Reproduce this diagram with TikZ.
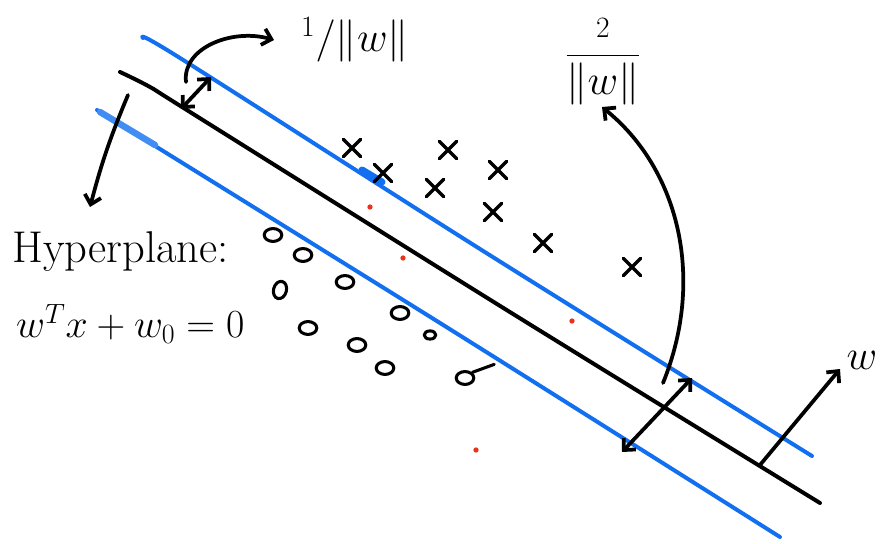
\RequirePackage{fix-cm}
\documentclass[tikz,border=0pt]{standalone}
\usepackage{amsmath}
\usetikzlibrary{arrows.meta,shapes.misc,shapes.geometric}
\definecolor{mblue}{RGB}{18,112,240}
\definecolor{svred}{RGB}{232,52,30}

\begin{document}
\begin{tikzpicture}[x=0.03cm, y=-0.03cm, line cap=round, line join=round,
  hand/.style={line width=3.2pt},
  margin/.style={draw=mblue, line width=3.4pt},
  plane/.style={draw=black, line width=3.4pt},
  arr/.style={hand, -{Straight Barb[length=2.6mm, width=5mm]}},
  darr/.style={hand, {Straight Barb[length=2.6mm, width=5mm]}-{Straight Barb[length=2.6mm, width=5mm]}},
  plusmark/.style={cross out, draw, line width=2.8pt, minimum size=12pt, inner sep=0pt},
  negmark/.style={ellipse, draw, line width=2.6pt, minimum width=15pt, minimum height=11pt, inner sep=0pt},
  svdot/.style={circle, fill=svred, inner sep=0pt, minimum size=4.5pt},
  lab/.style={inner sep=0pt, font=\fontsize{36}{42}\selectfont}]
  \useasboundingbox (0,0) rectangle (883,544);
  % hyperplane and margins
  \draw[plane] plot[smooth, tension=0.5] coordinates {(120,72) (150,87) (190,112) (505,309) (820,503)};
  \draw[margin] plot[smooth, tension=0.5] coordinates {(143,38) (180,58) (480,249) (812,456)};
  \draw[margin] plot[smooth, tension=0.5] coordinates {(97,110) (440,323) (780,537)};
  \draw[margin, line width=6pt] (362,170) -- (382,182);
  \draw[margin, line width=5.5pt, draw=mblue!80] (100,112) -- (155,145);
  % labels
  \node[lab, anchor=base west, font=\fontsize{38}{44}\selectfont] (hyp) at (12,263) {Hyperplane:};
  \node[lab, anchor=base west, font=\fontsize{34}{40}\selectfont] (eq) at (16,338) {$w^{T}x+w_0=0$};
  \node[lab] (half) at (355,40) {${}^{1}/\|w\|$};
  \node[lab] (full) at (603,62) {$\dfrac{\scriptstyle 2}{\|w\|}$};
  \node[lab] (wlab) at (862,360) {$w$};
  % class +1
  \foreach \px/\py [count=\i] in {352/148, 448/150, 383/173, 498/170, 435/188, 493/212, 543/243, 632/267}
    \node[plusmark] (p\i) at (\px,\py) {};
  % class -1
  \foreach \nx/\ny [count=\i] in {273/235, 303/255, 345/282, 308/328, 357/345, 400/313, 385/368, 465/378}
    \node[negmark] (n\i) at (\nx,\ny) {};
  \node[negmark, rotate=75] (n9) at (280,290) {};
  \node[negmark, minimum width=10pt, minimum height=7pt] (n10) at (430,335) {};
  \draw[line width=2.6pt] (n8.north east) -- ++(22,-8);
  % support points
  \foreach \sx/\sy [count=\i] in {370/207, 403/258, 572/321, 476/450}
    \node[svdot] (s\i) at (\sx,\sy) {};
  % arrows
  \coordinate (hpA) at (128,95);
  \coordinate (hpB) at (90,207);
  \draw[arr] (hpA) to[bend right=4] (hpB);
  \coordinate (dA) at (181,109);
  \coordinate (dB) at (211,77);
  \draw[darr] (dA) -- (dB);
  \coordinate (cS) at (186,82);
  \coordinate (cE) at (274,40);
  \draw[arr] (cS) .. controls (182,48) and (232,28) .. (cE);
  \coordinate (bS) at (663,383);
  \coordinate (bE) at (602,107);
  \draw[arr] (bS) .. controls (705,280) and (680,170) .. (bE);
  \coordinate (mA) at (622,452);
  \coordinate (mB) at (692,378);
  \draw[darr] (mA) -- (mB);
  \coordinate (wS) at (760,465);
  \coordinate (wE) at (840,369);
  \draw[arr] (wS) -- (wE);
\end{tikzpicture}
\end{document}
